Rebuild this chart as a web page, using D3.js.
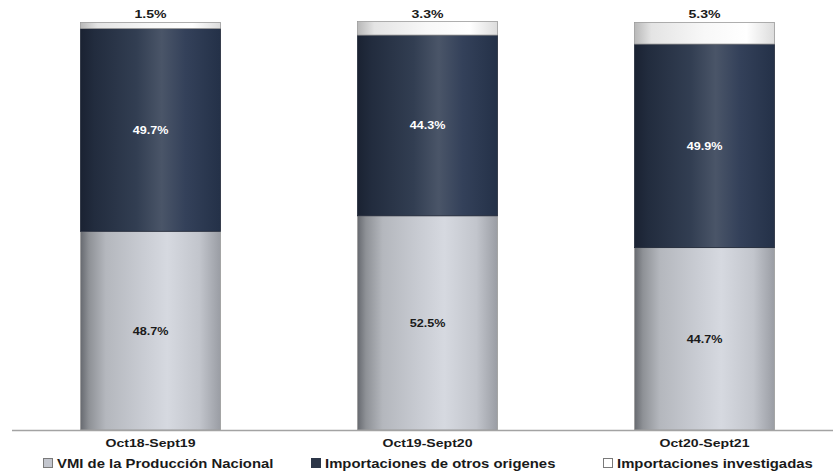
<!DOCTYPE html>
<html>
<head>
<meta charset="utf-8">
<script src="https://cdn.jsdelivr.net/npm/d3@7"></script>
<style>
  html, body { margin: 0; padding: 0; background: #ffffff; }
  svg { display: block; }
  text { font-family: "Liberation Sans", Arial, sans-serif; font-weight: bold; }
</style>
</head>
<body>
<div id="chart"></div>
<script>
const categories = ["Oct18-Sept19", "Oct19-Sept20", "Oct20-Sept21"];
const vmiNacional = [48.7, 52.5, 44.7];
const importOtros = [49.7, 44.3, 49.9];
const importInvestigadas = [1.5, 3.3, 5.3];
const seriesNames = ["VMI de la Producción Nacional", "Importaciones de otros origenes", "Importaciones investigadas"];
const seriesKeys = ["vmi", "otros", "inv"];

const W = 833, H = 474;
const svg = d3.select("#chart").append("svg").attr("width", W).attr("height", H);

const rows = categories.map((c, i) => ({ cat: c, vmi: vmiNacional[i], otros: importOtros[i], inv: importInvestigadas[i] }));
const stacked = d3.stack().keys(seriesKeys)(rows);

const x = d3.scaleBand().domain(categories).range([12, 843]).paddingInner(0.495).paddingOuter(0.2475);
const y = d3.scaleLinear().domain([0, 100]).range([430, 22]);

const defs = svg.append("defs");
function grad(id, stops) {
  const g = defs.append("linearGradient").attr("id", id).attr("x1", "0%").attr("x2", "100%").attr("y1", "0%").attr("y2", "0%");
  stops.forEach(s => g.append("stop").attr("offset", s[0]).attr("stop-color", s[1]));
}
grad("gGray", [["0%", "#676a70"], ["6%", "#8e9196"], ["18%", "#b4b7bd"], ["45%", "#c9ccd3"], ["62%", "#d6d9e0"], ["85%", "#c2c5cc"], ["100%", "#9a9da4"]]);
grad("gDark", [["0%", "#1a2232"], ["10%", "#222c3e"], ["40%", "#323e52"], ["58%", "#4a5568"], ["75%", "#34415a"], ["100%", "#243148"]]);
grad("gWhite", [["0%", "#b8b8b8"], ["12%", "#e4e4e4"], ["50%", "#f8f8f8"], ["80%", "#ffffff"], ["100%", "#dcdcdc"]]);

const fills = { vmi: "url(#gGray)", otros: "url(#gDark)", inv: "url(#gWhite)" };
const legendFills = { vmi: "#c3c6ce", otros: "#2c3648", inv: "#ffffff" };

const g = svg.append("g");
stacked.forEach(layer => {
  g.selectAll(null).data(layer).enter().append("rect")
    .attr("x", d => x(d.data.cat))
    .attr("width", x.bandwidth())
    .attr("y", d => y(d[1]))
    .attr("height", d => y(d[0]) - y(d[1]))
    .attr("fill", fills[layer.key])
    .attr("stroke", layer.key === "otros" ? "#1e2636" : "#9a9a9a")
    .attr("stroke-width", 0.8);
});

function stretchText(sel, sx) {
  sel.attr("transform", function () {
    const tx = +this.getAttribute("data-x"), ty = +this.getAttribute("data-y");
    return `translate(${tx},${ty}) scale(${sx},1)`;
  });
}

// in-bar labels
stacked.filter(l => l.key !== "inv").forEach(layer => {
  const t = g.selectAll(null).data(layer).enter().append("text")
    .attr("data-x", d => x(d.data.cat) + x.bandwidth() / 2)
    .attr("data-y", d => (y(d[0]) + y(d[1])) / 2 + 4)
    .attr("text-anchor", "middle")
    .attr("font-size", 10.5)
    .attr("fill", layer.key === "otros" ? "#ffffff" : "#1a1a1a")
    .text(d => d3.format(".1f")(d.data[layer.key]) + "%");
  stretchText(t, 1.2);
});

// top labels
const invLayer = stacked.find(l => l.key === "inv");
const tt = g.selectAll(null).data(invLayer).enter().append("text")
  .attr("data-x", d => x(d.data.cat) + x.bandwidth() / 2)
  .attr("data-y", d => y(d[1]) - 4)
  .attr("text-anchor", "middle")
  .attr("font-size", 11)
  .attr("fill", "#1a1a1a")
  .text(d => d3.format(".1f")(d.data.inv) + "%");
stretchText(tt, 1.28);

// axis
const axis = svg.append("g").attr("transform", "translate(0,430.5)").call(d3.axisBottom(x).tickSize(0).tickPadding(0));
axis.select(".domain").attr("stroke", "#a3a3a3").attr("stroke-width", 1.6).attr("d", "M12,0H833");
axis.selectAll(".tick text").remove();
const ct = axis.selectAll(".tick").append("text")
  .attr("data-x", 0).attr("data-y", 16)
  .attr("text-anchor", "middle")
  .attr("font-size", 11)
  .attr("fill", "#1a1a1a")
  .text(d => d);
stretchText(ct, 1.28);

// legend
const legendX = [43, 311, 603];
const lg = svg.append("g");
seriesKeys.forEach((k, i) => {
  lg.append("rect").attr("x", legendX[i] + 0.5).attr("y", 458.5).attr("width", 9).attr("height", 9)
    .attr("fill", legendFills[k]).attr("stroke", k === "otros" ? "#2c3648" : "#7a7a7a").attr("stroke-width", 1);
  const t = lg.append("text")
    .attr("data-x", legendX[i] + 14).attr("data-y", 468)
    .attr("font-size", 12).attr("fill", "#1a1a1a")
    .text(seriesNames[i]);
  stretchText(t, 1.24);
});
</script>
</body>
</html>
